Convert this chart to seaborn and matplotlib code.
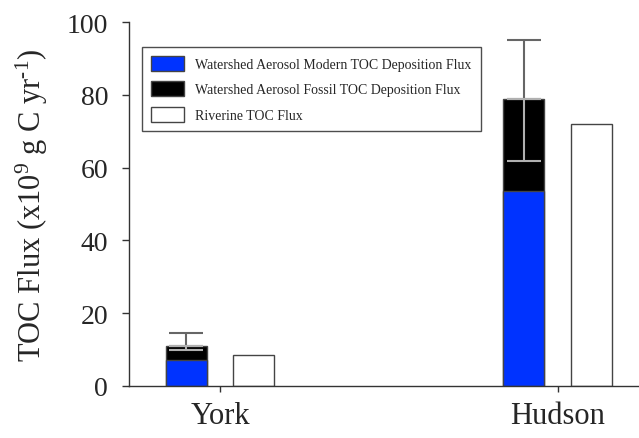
import numpy as np
import pandas as pd
import matplotlib
matplotlib.use("Agg")
import matplotlib.pyplot as plt
from matplotlib.patches import Patch
import seaborn as sb

# data (10^9 g C / yr)
sites = ["York", "Hudson"]
modern_dep = [7.1, 53.7]
fossil_dep = [3.9, 25.3]
riverine = [8.4, 72.0]
err_up = [3.5, 16.1]
err_down = [1.2, 17.1]

series = ["Deposition", "Riverine"]
total_dep = [m + f for m, f in zip(modern_dep, fossil_dep)]

df_tot = pd.DataFrame({
    "site": sites * 2,
    "kind": [series[0]] * 2 + [series[1]] * 2,
    "flux": total_dep + riverine,
})
df_mod = pd.DataFrame({
    "site": sites * 2,
    "kind": [series[0]] * 2 + [series[1]] * 2,
    "flux": modern_dep + [np.nan, np.nan],
})

sb.set_style("ticks")
plt.rcParams['font.family'] = ['Liberation Serif', 'DejaVu Serif']
plt.rcParams['mathtext.fontset'] = 'custom'
plt.rcParams['mathtext.rm'] = 'Liberation Serif'
plt.rcParams['mathtext.default'] = 'rm'

fig = plt.figure(figsize=(6.39, 4.39), dpi=100)
ax = fig.add_axes([0.202, 0.119, 0.798, 0.828])

edge = "#444444"
blue = "#0033ff"
sb.barplot(data=df_tot, x="site", y="flux", hue="kind", order=sites,
           hue_order=series, palette={"Deposition": "black", "Riverine": "white"},
           width=0.4, gap=0.395, dodge=True, edgecolor=edge, linewidth=1,
           saturation=1, errorbar=None, legend=False, ax=ax)
sb.barplot(data=df_mod, x="site", y="flux", hue="kind", order=sites,
           hue_order=series, palette={"Deposition": blue, "Riverine": "white"},
           width=0.4, gap=0.395, dodge=True, edgecolor=edge, linewidth=1,
           saturation=1, errorbar=None, legend=False, ax=ax)

# x positions of the deposition bars, taken from the drawn patches
dep_x = sorted(p.get_x() + p.get_width() / 2 for p in ax.patches
               if p.get_height() > 0 and p.get_facecolor()[:3] == (0, 0, 0))
zeros = [0, 0]
ax.errorbar(dep_x, total_dep, yerr=[zeros, err_up], fmt="none",
            ecolor="#666666", elinewidth=1.5, capsize=12.5, capthick=1.5, zorder=5)
ax.errorbar(dep_x, total_dep, yerr=[err_down, zeros], fmt="none",
            ecolor="#b0b0b0", elinewidth=1.5, capsize=12.5, capthick=1.5, zorder=5)

ax.set_xlim(-0.2695, 1.241)
ax.set_ylim(0, 100)
ax.set_yticks([0, 20, 40, 60, 80, 100])
ax.set_xlabel("")
ax.set_ylabel("TOC Flux (x10$^{9}$ g C yr$^{\\text{-}1}$)", fontsize=22, labelpad=12)
ax.tick_params(axis="y", labelsize=20, direction="out", length=5, width=1, pad=10, color="#333333")
ax.tick_params(axis="x", labelsize=22, direction="out", length=4, width=1, pad=7, color="#333333")
for s in ["top", "right"]:
    ax.spines[s].set_visible(False)
for s in ["left", "bottom"]:
    ax.spines[s].set_color("#333333")
    ax.spines[s].set_linewidth(1)

handles = [Patch(facecolor=blue, edgecolor=edge, label="Watershed Aerosol Modern TOC Deposition Flux"),
           Patch(facecolor="black", edgecolor=edge, label="Watershed Aerosol Fossil TOC Deposition Flux"),
           Patch(facecolor="white", edgecolor=edge, label="Riverine TOC Flux")]
leg = ax.legend(handles=handles, loc="upper left", bbox_to_anchor=(0.025, 0.932),
                borderaxespad=0, fontsize=10, frameon=True, fancybox=False,
                handlelength=2.4, handleheight=1.25, labelspacing=0.75,
                borderpad=0.65, handletextpad=0.8)
leg.get_frame().set_edgecolor("#222222")
leg.get_frame().set_linewidth(1)

fig.savefig("out.png", dpi=100)
